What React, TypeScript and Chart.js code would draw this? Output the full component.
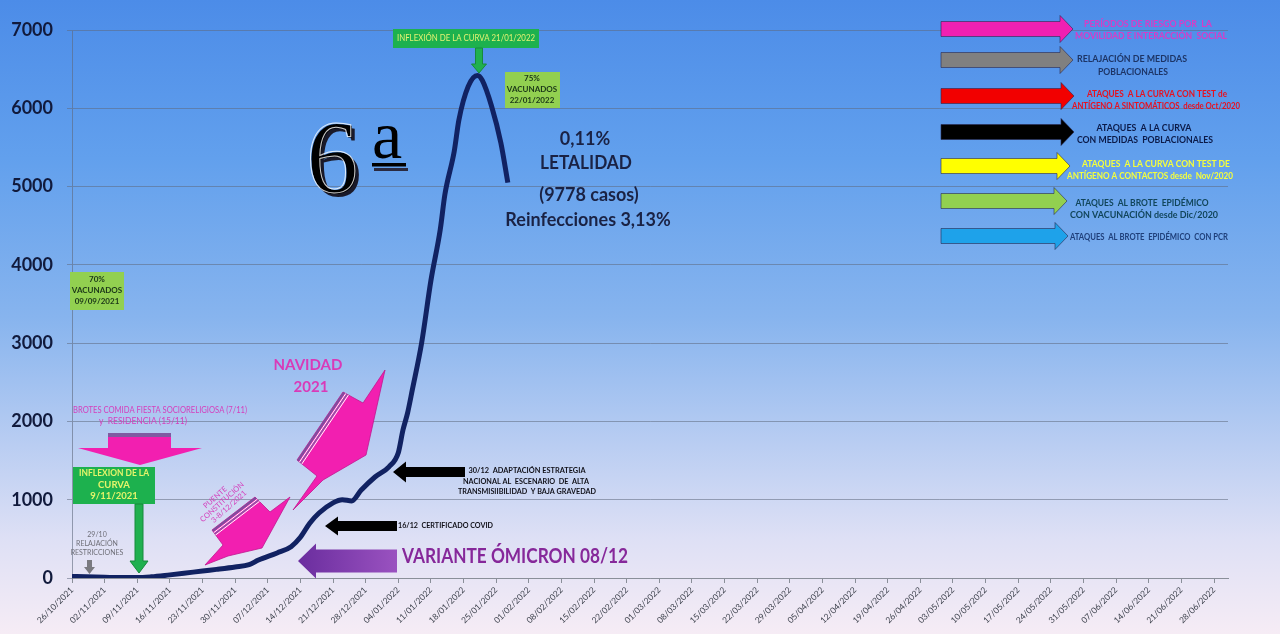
import React, { useEffect, useRef } from "react";
import { Chart, registerables } from "chart.js";

Chart.register(...registerables);

// X tick labels (weekly, starting 26/10/2021)
const tickDates = [
  "26/10/2021", "02/11/2021", "09/11/2021", "16/11/2021", "23/11/2021", "30/11/2021",
  "07/12/2021", "14/12/2021", "21/12/2021", "28/12/2021", "04/01/2022", "11/01/2022",
  "18/01/2022", "25/01/2022", "01/02/2022", "08/02/2022", "15/02/2022", "22/02/2022",
  "01/03/2022", "08/03/2022", "15/03/2022", "22/03/2022", "29/03/2022", "05/04/2022",
  "12/04/2022", "19/04/2022", "26/04/2022", "03/05/2022", "10/05/2022", "17/05/2022",
  "24/05/2022", "31/05/2022", "07/06/2022", "14/06/2022", "21/06/2022", "28/06/2022",
];
const axisEndDay = 248; // axis runs a little past 28/06/2022

// Cases curve: days since 26/10/2021 and case values
const caseDays = [
  0, 3, 7, 10, 14, 17, 21, 24, 28, 31, 35, 38, 40, 44, 47, 49, 51, 53, 56, 58,
  60, 62, 65, 68, 70, 71, 72, 73, 75, 77, 79, 80, 82, 83, 85, 87, 88, 90, 92, 93.5,
];
const caseValues = [
  20, 15, 10, 5, 5, 15, 40, 60, 90, 110, 140, 170, 230, 320, 400, 520, 700, 830, 960, 1000,
  985, 1120, 1290, 1420, 1600, 1890, 2110, 2400, 3000, 3800, 4450, 4900, 5450, 5850, 6280, 6420, 6360, 6030, 5560, 5050,
];

const yMax = 7000;
const yStep = 1000;

const SANS = "Lato, 'Open Sans', 'DejaVu Sans', sans-serif";

function txt(ctx: any, s: string, x: number, y: number, size: number, color: string, o: any = {}) {
  ctx.save();
  ctx.font = `${o.weight ?? "bold"} ${size}px ${o.family ?? SANS}`;
  ctx.fillStyle = color;
  ctx.textAlign = o.align ?? "center";
  ctx.textBaseline = o.baseline ?? "middle";
  if (o.maxWidth) ctx.fillText(s, x, y, o.maxWidth);
  else ctx.fillText(s, x, y);
  ctx.restore();
}

function poly(ctx: any, pts: number[][], fill: any, stroke?: string, lw = 1) {
  ctx.save();
  ctx.beginPath();
  pts.forEach((p, i) => (i ? ctx.lineTo(p[0], p[1]) : ctx.moveTo(p[0], p[1])));
  ctx.closePath();
  ctx.fillStyle = fill;
  ctx.fill();
  if (stroke) {
    ctx.strokeStyle = stroke;
    ctx.lineWidth = lw;
    ctx.stroke();
  }
  ctx.restore();
}

function hArrow(ctx: any, xTail: number, xTip: number, cy: number, sh: number, hh: number, hl: number, fill: any, stroke?: string) {
  const d = Math.sign(xTip - xTail);
  const xb = xTip - d * hl;
  poly(ctx, [
    [xTail, cy - sh], [xb, cy - sh], [xb, cy - hh], [xTip, cy], [xb, cy + hh], [xb, cy + sh], [xTail, cy + sh],
  ], fill, stroke);
}

function vArrow(ctx: any, cx: number, yTail: number, yTip: number, sw: number, hw: number, hl: number, fill: string, stroke?: string) {
  const yb = yTip - hl;
  poly(ctx, [
    [cx - sw, yTail], [cx + sw, yTail], [cx + sw, yb], [cx + hw, yb], [cx, yTip], [cx - hw, yb], [cx - sw, yb],
  ], fill, stroke);
}

function stripedArrow(ctx: any, pts: number[][], a: number[], b: number[]) {
  poly(ctx, pts, "#f21fb0", "#c0168f", 0.8);
  const dx = b[0] - a[0], dy = b[1] - a[1];
  const len = Math.hypot(dx, dy);
  const nx = -dy / len, ny = dx / len;
  const sx = nx < 0 ? -nx : nx, sy = nx < 0 ? -ny : ny;
  ctx.save();
  ctx.beginPath();
  pts.forEach((p, i) => (i ? ctx.lineTo(p[0], p[1]) : ctx.moveTo(p[0], p[1])));
  ctx.closePath();
  ctx.clip();
  const lines: [number, string, number][] = [[1, "#7d4f9e", 2.5], [3.2, "#ffffff", 1], [4.6, "#8a5aa8", 1.4], [6.2, "#ffffff", 1]];
  lines.forEach(([off, col, w]) => {
    ctx.beginPath();
    ctx.moveTo(a[0] + sx * off - dx * 0.1, a[1] + sy * off - dy * 0.1);
    ctx.lineTo(b[0] + sx * off + dx * 0.1, b[1] + sy * off + dy * 0.1);
    ctx.strokeStyle = col;
    ctx.lineWidth = w;
    ctx.stroke();
  });
  ctx.restore();
}

const backgroundPlugin = {
  id: "bg",
  beforeDraw(chart: any) {
    const { ctx, width, height } = chart;
    const g = ctx.createLinearGradient(0, 0, 0, height);
    g.addColorStop(0, "rgb(76,140,232)");
    g.addColorStop(0.25, "rgb(98,160,237)");
    g.addColorStop(0.5, "rgb(135,180,238)");
    g.addColorStop(0.7, "rgb(185,205,242)");
    g.addColorStop(0.85, "rgb(222,224,245)");
    g.addColorStop(1, "rgb(246,236,245)");
    ctx.save();
    ctx.fillStyle = g;
    ctx.fillRect(0, 0, width, height);
    ctx.restore();
  },
};

const annotationPlugin = {
  id: "annotations",
  afterDraw(chart: any) {
    const ctx = chart.ctx;

    // ---- Right-hand legend arrows ----
    const legend = [
      { fill: "#f020b2", cy: 29, tip: 1073, color: "#d83cc6", lines: [["PERÍODOS DE RIESGO POR  LA", 1148, 24, 128], ["MOVILIDAD E INTERACCIÓN  SOCIAL", 1151, 36, 152]] },
      { fill: "#808080", cy: 60, tip: 1073, color: "#1d3566", lines: [["RELAJACIÓN DE MEDIDAS", 1132, 59, 110], ["POBLACIONALES", 1133, 72, 70]] },
      { fill: "#f20000", cy: 96, tip: 1074, color: "#e8101e", lines: [["ATAQUES  A LA CURVA CON TEST de", 1157, 94, 140], ["ANTÍGENO A SINTOMÁTICOS  desde Oct/2020", 1156, 106, 168]] },
      { fill: "#000000", cy: 132, tip: 1074, color: "#0b1a48", lines: [["ATAQUES  A LA CURVA", 1144, 128, 95], ["CON MEDIDAS  POBLACIONALES", 1145, 140, 136]] },
      { fill: "#ffff00", cy: 166, tip: 1070, color: "#f6ff3a", lines: [["ATAQUES  A LA CURVA CON TEST DE", 1156, 164, 148], ["ANTÍGENO A CONTACTOS desde  Nov/2020", 1150, 176, 166]] },
      { fill: "#92d050", cy: 201, tip: 1067, color: "#11455a", lines: [["ATAQUES  AL BROTE  EPIDÉMICO", 1142, 203, 133], ["CON VACUNACIÓN desde Dic/2020", 1144, 215, 148]] },
      { fill: "#1ea2ea", cy: 236, tip: 1068, color: "#1f3f7a", lines: [["ATAQUES  AL BROTE  EPIDÉMICO  CON PCR", 1149, 237, 158]] },
    ];
    legend.forEach((it: any) => {
      hArrow(ctx, 941, it.tip, it.cy, 7.5, 13.5, 13, it.fill, "rgba(40,40,80,0.6)");
      it.lines.forEach((l: any) => txt(ctx, l[0], l[1], l[2], 9, it.color, { maxWidth: l[3] }));
    });

    // ---- 70% vacunados box ----
    poly(ctx, [[70, 272], [124, 272], [124, 310], [70, 310]], "#92d050");
    txt(ctx, "70%", 97, 279, 8, "#1b3618");
    txt(ctx, "VACUNADOS", 97, 290, 8, "#1b3618");
    txt(ctx, "09/09/2021", 97, 301, 8, "#1b3618");

    // ---- Brotes text + magenta down arrow ----
    txt(ctx, "BROTES COMIDA FIESTA SOCIORELIGIOSA (7/11)", 160, 410, 9, "#d43fbc", { weight: "normal", maxWidth: 174 });
    txt(ctx, "y  RESIDENCIA (15/11)", 143, 421, 9, "#d43fbc", { weight: "normal", maxWidth: 88 });
    poly(ctx, [[108, 433], [171, 433], [171, 448], [202, 448], [140, 465], [78, 448], [108, 448]], "#f21fb0");
    poly(ctx, [[108, 433], [171, 433], [171, 437], [108, 437]], "#7f5aa2");

    // ---- Inflexion 9/11 box + green arrow ----
    poly(ctx, [[73, 467], [155, 467], [155, 504], [73, 504]], "#1db14e");
    txt(ctx, "INFLEXION DE LA", 114, 473, 9.5, "#e6f46a", { maxWidth: 70 });
    txt(ctx, "CURVA", 114, 485, 9.5, "#e6f46a");
    txt(ctx, "9/11/2021", 114, 496, 9.5, "#e6f46a");
    vArrow(ctx, 139, 504, 573, 4, 9, 12, "#20b04f", "#178a3c");

    // ---- 29/10 relajación ----
    txt(ctx, "29/10", 97, 535, 7, "#6f6f78", { weight: "normal" });
    txt(ctx, "RELAJACIÓN", 97, 544, 7, "#6f6f78", { weight: "normal" });
    txt(ctx, "RESTRICCIONES", 97, 553, 7, "#6f6f78", { weight: "normal" });
    vArrow(ctx, 89.5, 560, 574, 2.5, 5.5, 7, "#7a7a80");

    // ---- Puente constitución ----
    const puente = [[212, 530], [255, 497], [270, 512], [290, 497], [262, 548], [228, 556], [205, 565], [223, 545]];
    stripedArrow(ctx, puente, [212, 530], [255, 497]);
    ctx.save();
    ctx.translate(222, 502);
    ctx.rotate(-42 * Math.PI / 180);
    txt(ctx, "PUENTE", -2, -8, 7.5, "#d43fbc", { weight: "normal" });
    txt(ctx, "CONSTITUCIÓN", 0, 0, 7.5, "#d43fbc", { weight: "normal" });
    txt(ctx, "3-8/12/2021", 2, 8, 7.5, "#d43fbc", { weight: "normal" });
    ctx.restore();

    // ---- Navidad ----
    txt(ctx, "NAVIDAD", 308, 365, 15, "#d93ab8");
    txt(ctx, "2021", 311, 387, 15, "#d93ab8");
    const navidad = [[297, 460], [343, 392], [363, 403], [385, 370], [366, 455], [323, 480], [293, 510], [317, 476]];
    stripedArrow(ctx, navidad, [297, 460], [343, 392]);

    // ---- Black arrows with notes ----
    hArrow(ctx, 465, 393, 472, 5, 10.5, 13, "#000000");
    txt(ctx, "30/12  ADAPTACIÓN ESTRATEGIA", 527, 470, 8, "#101018", { maxWidth: 117 });
    txt(ctx, "NACIONAL AL  ESCENARIO  DE  ALTA", 526, 481, 8, "#101018", { maxWidth: 126 });
    txt(ctx, "TRANSMISIIBILIDAD  Y BAJA GRAVEDAD", 527, 491, 8, "#101018", { maxWidth: 138 });
    hArrow(ctx, 397, 325, 526, 5, 9.5, 13, "#000000");
    txt(ctx, "16/12  CERTIFICADO COVID", 398, 525, 8, "#101018", { align: "left", maxWidth: 95 });

    // ---- Variante omicron ----
    const pg = ctx.createLinearGradient(298, 0, 397, 0);
    pg.addColorStop(0, "#6a2d9e");
    pg.addColorStop(1, "#9a52c0");
    hArrow(ctx, 397, 298, 561, 11.5, 17.5, 18, pg);
    txt(ctx, "VARIANTE ÓMICRON 08/12", 402, 556, 21, "#86289a", { align: "left", maxWidth: 226 });

    // ---- Inflexión 21/01 box ----
    poly(ctx, [[393, 29], [539, 29], [539, 48], [393, 48]], "#1db14e");
    txt(ctx, "INFLEXIÓN DE LA CURVA 21/01/2022", 466, 38.5, 8.5, "#e3f272", { weight: "normal", maxWidth: 138 });
    vArrow(ctx, 479, 48, 73, 3.5, 7.5, 9, "#20b04f", "#178a3c");

    // ---- 75% vacunados ----
    poly(ctx, [[505, 72], [560, 72], [560, 108], [505, 108]], "#92d050");
    txt(ctx, "75%", 532, 78, 8, "#1b3618");
    txt(ctx, "VACUNADOS", 532, 89, 8, "#1b3618");
    txt(ctx, "22/01/2022", 532, 100, 8, "#1b3618");

    // ---- Letalidad ----
    txt(ctx, "0,11%", 585, 139, 18, "#1a2244");
    txt(ctx, "LETALIDAD", 586, 163, 18, "#1a2244", { maxWidth: 92 });
    txt(ctx, "(9778 casos)", 589, 195, 18, "#1a2244", { maxWidth: 106 });
    txt(ctx, "Reinfecciones 3,13%", 588, 220, 18, "#1a2244", { maxWidth: 176 });

    // ---- 6ª ----
    ctx.save();
    ctx.textAlign = "left";
    ctx.textBaseline = "alphabetic";
    ctx.font = "104px 'Liberation Serif', 'DejaVu Serif', serif";
    ctx.fillStyle = "#1a1a2a";
    ctx.fillText("6", 310, 196);
    ctx.fillStyle = "#000";
    ctx.fillText("6", 307, 193);
    ctx.strokeStyle = "rgba(255,255,255,0.8)";
    ctx.lineWidth = 1;
    ctx.strokeText("6", 306, 192);
    ctx.font = "68px 'Liberation Serif', 'DejaVu Serif', serif";
    ctx.fillStyle = "#000";
    ctx.fillText("a", 372, 158);
    ctx.fillRect(372, 163, 34, 3.5);
    ctx.fillStyle = "#2a2a40";
    ctx.fillRect(374, 168, 34, 3);
    ctx.restore();
  },
};

export default function App() {
  const ref = useRef<HTMLCanvasElement | null>(null);

  useEffect(() => {
    if (!ref.current) return;
    const chart = new Chart(ref.current, {
      type: "line",
      data: {
        datasets: [
          {
            label: "Casos",
            data: caseDays.map((d, i) => ({ x: d, y: caseValues[i] })),
            borderColor: "#112262",
            borderWidth: 5,
            pointRadius: 0,
            cubicInterpolationMode: "monotone",
            fill: false,
          },
        ],
      },
      options: {
        responsive: false,
        animation: false,
        layout: { padding: { left: 0, top: 30, right: 52, bottom: 0 } },
        plugins: { legend: { display: false }, tooltip: { enabled: false } },
        scales: {
          x: {
            type: "linear",
            min: 0,
            max: axisEndDay,
            afterBuildTicks: (scale: any) => {
              scale.ticks = tickDates.map((_, i) => ({ value: i * 7 }));
            },
            afterFit: (scale: any) => {
              scale.height = 56;
            },
            ticks: {
              autoSkip: false,
              maxRotation: 45,
              minRotation: 45,
              padding: 2,
              color: "#3a3f4a",
              font: { family: SANS, size: 8.5 },
              callback: (v: any) => tickDates[Math.round(Number(v) / 7)] ?? "",
            },
            grid: { drawOnChartArea: false, drawTicks: true, tickLength: 5, color: "#8a8f99" },
            border: { display: true, color: "#8a8f99", width: 1 },
          },
          y: {
            min: 0,
            max: yMax,
            afterFit: (scale: any) => {
              scale.width = 72;
            },
            ticks: {
              stepSize: yStep,
              padding: 14,
              color: "#111a3c",
              font: { family: SANS, size: 18, weight: "bold" },
              callback: (v: any) => String(v),
            },
            grid: { color: "rgba(95,105,125,0.55)", lineWidth: 1, tickLength: 5 },
            border: { display: true, color: "rgba(95,105,125,0.6)" },
          },
        },
      },
      plugins: [backgroundPlugin, annotationPlugin],
    } as any);
    return () => chart.destroy();
  }, []);

  return (
    <div style={{ position: "fixed", left: 0, top: 0, width: 1280, height: 634 }}>
      <canvas ref={ref} width={1280} height={634} />
    </div>
  );
}
